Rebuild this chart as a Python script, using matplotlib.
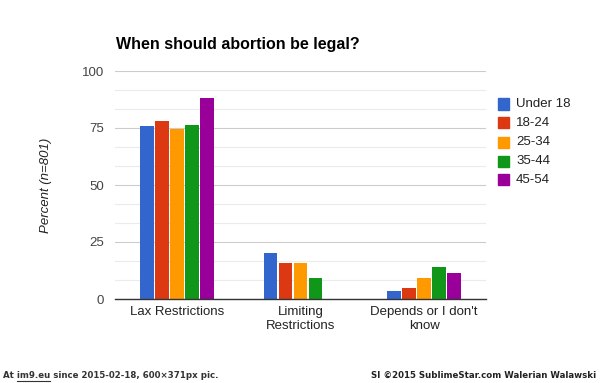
import matplotlib
matplotlib.use("Agg")
import matplotlib.pyplot as plt
from matplotlib.lines import Line2D
from matplotlib.patches import Rectangle
import numpy as np

categories = ["Lax Restrictions", "Limiting\nRestrictions", "Depends or I don't\nknow"]
series_names = ["Under 18", "18-24", "25-34", "35-44", "45-54"]
values = {
    "Under 18": [76, 20, 3.5],
    "18-24": [78, 16, 5],
    "25-34": [74.5, 16, 9],
    "35-44": [76.5, 9, 14],
    "45-54": [88, 0, 11.5],
}
colors = ["#3366cc", "#dc3912", "#ff9900", "#109618", "#990099"]
yticks = [0, 25, 50, 75, 100]

plt.rcParams['font.family'] = ['Liberation Sans', 'DejaVu Sans']

fig = plt.figure(figsize=(6.0, 3.83), dpi=100)
ax = fig.add_axes([115/600, 1-299/383, (486-115)/600, (299-71)/383])

x = np.arange(len(categories))
step = 0.1213
for i, name in enumerate(series_names):
    off = (i - 2) * step
    ax.bar(x + off, values[name], width=step - 0.009, color=colors[i], zorder=3, linewidth=0)

ax.set_xlim(-0.5, 2.5)
ax.set_ylim(0, 100)
ax.set_yticks(yticks)
ax.set_yticklabels([str(t) for t in yticks], color="#444444", fontsize=9.5)
ax.set_yticks(np.arange(0, 100.1, 25/3), minor=True)
ax.grid(True, axis='y', which='minor', color="#ebebeb", linewidth=0.8, zorder=0)
ax.grid(True, axis='y', which='major', color="#cccccc", linewidth=0.8, zorder=1)
ax.tick_params(axis='y', which='both', length=0, pad=8)
ax.set_xticks(x)
ax.set_xticklabels(categories, color="#222222", fontsize=9.5, linespacing=1.25, va='top')
ax.tick_params(axis='x', length=0, pad=5)
for s in ['top', 'right', 'left']:
    ax.spines[s].set_visible(False)
ax.spines['bottom'].set_color("#333333")
ax.spines['bottom'].set_linewidth(1.0)
ax.spines['bottom'].set_zorder(4)

ax.set_ylabel("Percent (n=801)", fontstyle='italic', color="#222222", fontsize=9.5, labelpad=21)

fig.text(116/600, 1-44/383, "When should abortion be legal?", fontsize=11.5, fontweight='bold',
         color="#000000", va='center', ha='left')

# legend
leg_y = [104, 123, 142, 161, 180]
for i, name in enumerate(series_names):
    yy = leg_y[i]
    fig.patches.append(Rectangle((498/600, 1-(yy+5.5)/383), 11/600, 11/383,
                                 transform=fig.transFigure, color=colors[i], figure=fig))
    fig.text(516/600, 1-yy/383, name, fontsize=9.5, color="#222222", va='center', ha='left')

# footer
ffam = ['DejaVu Sans']
fy = 1-375.5/383
fs = 6.2
kw = dict(fontsize=fs, family=ffam, va='center', ha='left', fontweight='bold')
fig.text(3/600, fy, "At im9.eu since 2015-02-18, 600\u00d7371px pic.", color="#333333", **kw)
fig.text(596/600, fy, "SI \u00a92015 SublimeStar.com Walerian Walawski",
         color="#222222", **{**kw, 'ha': 'right'})

# underline for "im9.eu"
renderer = fig.canvas.get_renderer()
pre = fig.text(3/600, fy, "At i", alpha=0, **kw)
pre0 = fig.text(3/600, fy, "i", alpha=0, **kw)
word = fig.text(3/600, fy, "At im9.eu", alpha=0, **kw)
x0 = pre.get_window_extent(renderer).x1 - pre0.get_window_extent(renderer).width
x1 = word.get_window_extent(renderer).x1
fig.lines.append(Line2D([x0/600, x1/600], [1-381/383, 1-381/383], transform=fig.transFigure,
                        color="#333333", linewidth=0.8))
pre.remove()
pre0.remove()
word.remove()

fig.savefig("out.png", dpi=100, facecolor="white")
